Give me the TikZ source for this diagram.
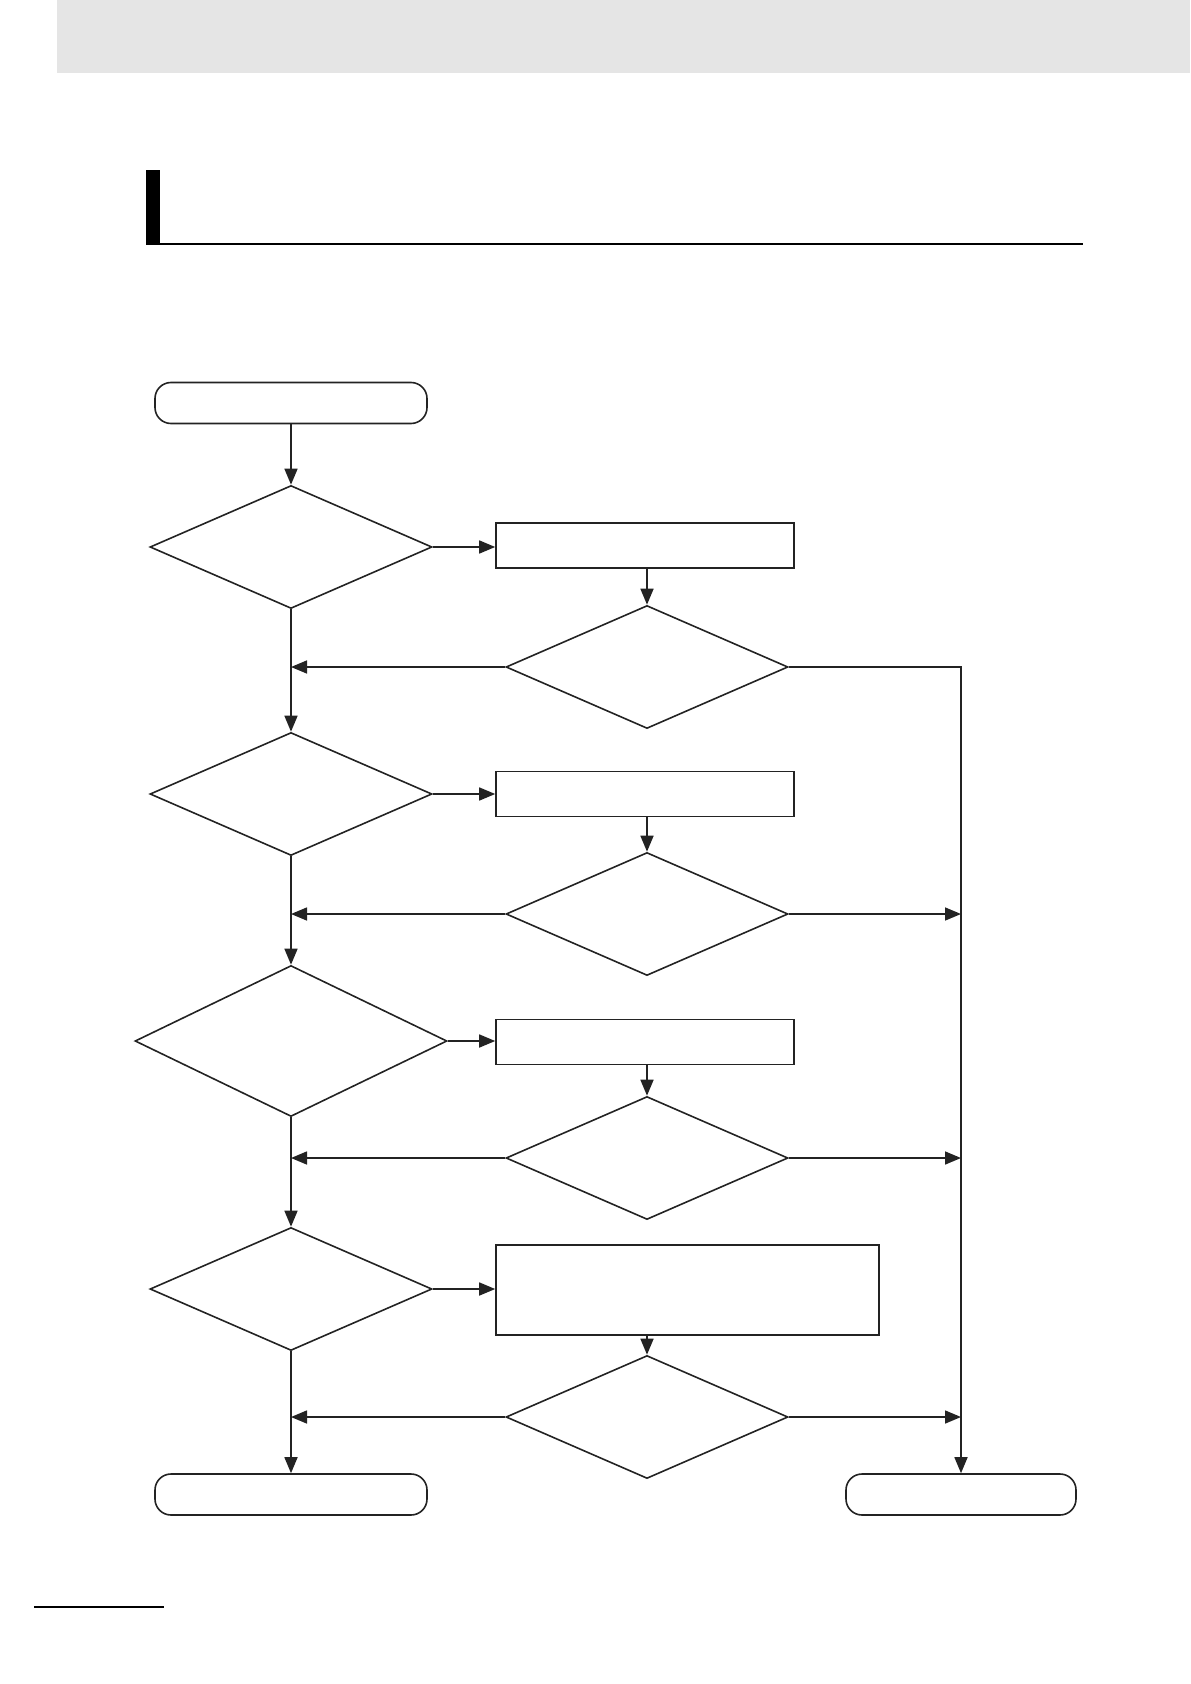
\documentclass[tikz,border=0pt]{standalone}
\usepackage{tikz}
\usetikzlibrary{shapes.geometric,arrows.meta}
\definecolor{headgray}{RGB}{229,229,229}
\definecolor{ink}{RGB}{35,35,35}

\begin{document}
\begin{tikzpicture}[
  x=0.5pt, y=-0.5pt,
  term/.style={draw=ink, line width=0.8pt, rounded corners=8pt,
    minimum height=20.5pt, inner sep=0pt},
  proc/.style={draw=ink, line width=0.8pt, minimum width=149pt,
    minimum height=22.5pt, inner sep=0pt},
  dec/.style={draw=ink, line width=0.8pt, diamond, inner sep=0pt,
    minimum width=141pt, minimum height=61.5pt},
  arr/.style={-{Triangle[length=8pt, width=6.5pt]}, line width=0.8pt, draw=ink},
]
  \useasboundingbox (0,0) rectangle (1190,1684);

  % page header and title rule
  \fill[headgray] (57,0) rectangle (1190,73);
  \fill[black] (146,170) rectangle (160,245);
  \draw[black, line width=1pt] (146,244) -- (1083,244);
  \draw[black, line width=1pt] (34,1607) -- (164,1607);

  % terminators
  \node[term, minimum width=136pt] (start) at (291,403) {};
  \node[term, minimum width=136pt] (endL) at (291,1494.5) {};
  \node[term, minimum width=115pt] (endR) at (961,1494.5) {};

  % left column checks
  \node[dec] (chk1) at (291,547) {};
  \node[dec] (chk2) at (291,794) {};
  \node[dec, minimum width=156pt, minimum height=75.5pt] (chk3) at (291,1041) {};
  \node[dec] (chk4) at (291,1289) {};

  % actions
  \node[proc] (act1) at (645,545.5) {};
  \node[proc] (act2) at (645,794) {};
  \node[proc] (act3) at (645,1042) {};
  \node[proc, minimum width=191.5pt, minimum height=45pt] (act4) at (687.5,1290) {};

  % right column checks
  \node[dec] (ok1) at (647,667) {};
  \node[dec] (ok2) at (647,914) {};
  \node[dec] (ok3) at (647,1158) {};
  \node[dec] (ok4) at (647,1417) {};

  % main column
  \draw[arr] (start) -- (chk1);
  \draw[arr] (chk1) -- (chk2);
  \draw[arr] (chk2) -- (chk3);
  \draw[arr] (chk3) -- (chk4);
  \draw[arr] (chk4) -- (endL);

  % branches to the actions
  \draw[arr] (chk1.east) -- (act1.west |- chk1.east);
  \draw[arr] (chk2.east) -- (act2.west |- chk2.east);
  \draw[arr] (chk3.east) -- (act3.west |- chk3.east);
  \draw[arr] (chk4.east) -- (act4.west |- chk4.east);

  \draw[arr] (act1.south -| ok1.north) -- (ok1.north);
  \draw[arr] (act2.south -| ok2.north) -- (ok2.north);
  \draw[arr] (act3.south -| ok3.north) -- (ok3.north);
  \draw[arr] (act4.south -| ok4.north) -- (ok4.north);

  % back to the main column
  \draw[arr] (ok1.west) -- (ok1.west -| chk1.south);
  \draw[arr] (ok2.west) -- (ok2.west -| chk2.south);
  \draw[arr] (ok3.west) -- (ok3.west -| chk3.south);
  \draw[arr] (ok4.west) -- (ok4.west -| chk4.south);

  % right exit line
  \draw[arr] (ok1.east) -| (endR.north);
  \draw[arr] (ok2.east) -- (ok2.east -| endR.north);
  \draw[arr] (ok3.east) -- (ok3.east -| endR.north);
  \draw[arr] (ok4.east) -- (ok4.east -| endR.north);
\end{tikzpicture}
\end{document}
